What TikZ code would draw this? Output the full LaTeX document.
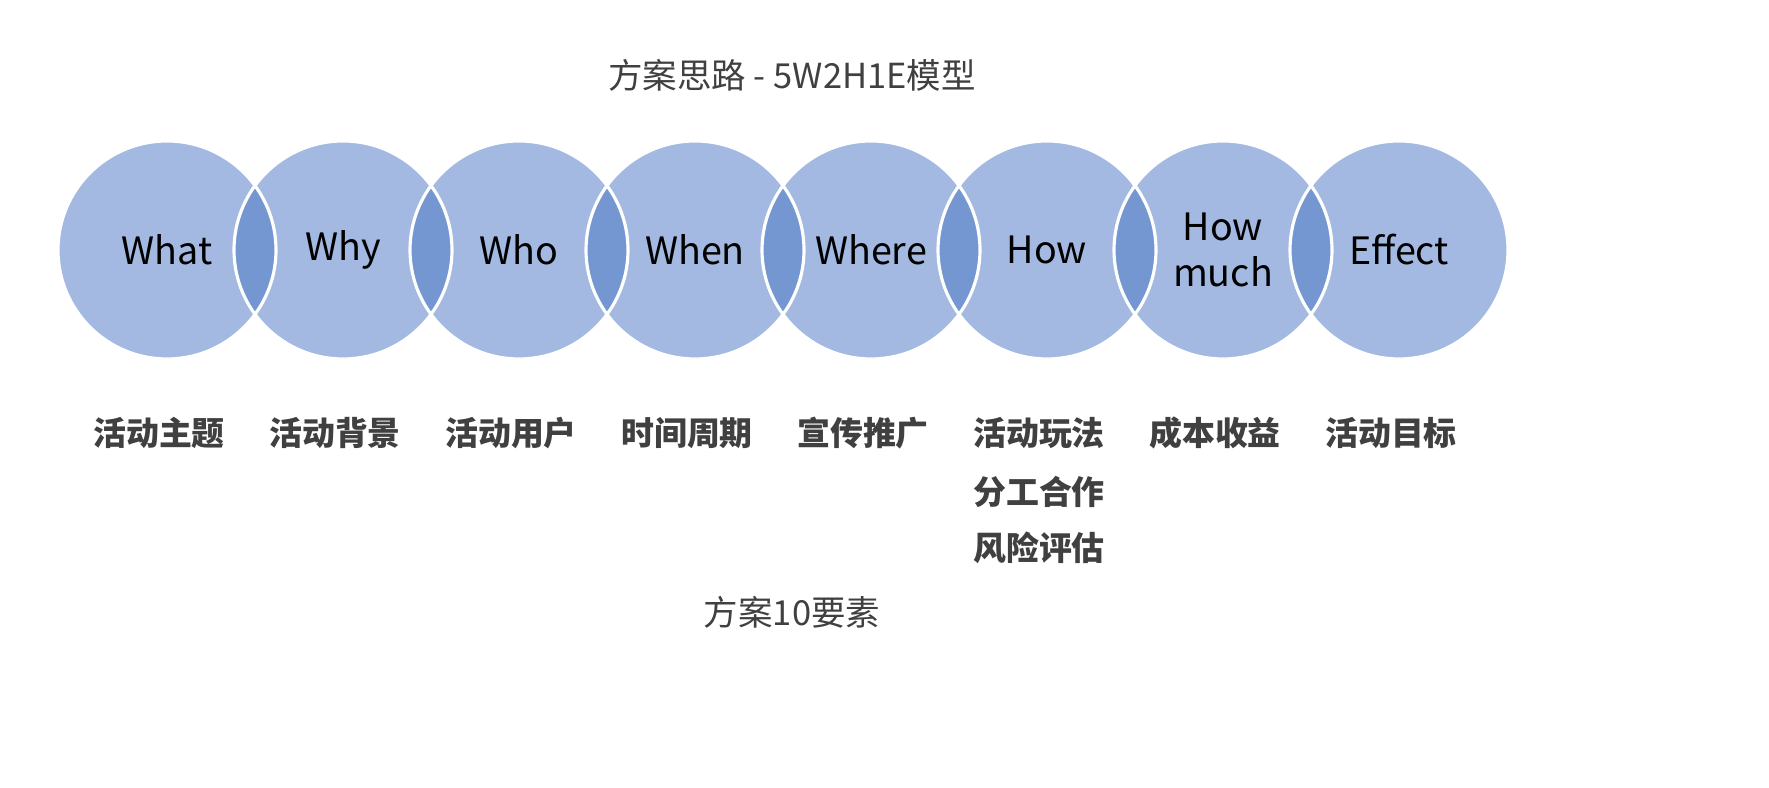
\documentclass[tikz,border=0pt]{standalone}
\usepackage{fontspec}
\setmainfont{Noto Sans CJK SC}
\begin{document}
\begin{tikzpicture}[x=0.00886cm,y=-0.00886cm,
  lbl/.style={font=\fontsize{9.5}{11.5}\selectfont,align=center,text=black},
  elem/.style={font=\fontsize{8.3}{14}\selectfont\bfseries,align=center,text=textgray}]
  \definecolor{ringblue}{HTML}{A3B9E1}
  \definecolor{lensblue}{HTML}{7597D1}
  \definecolor{textgray}{HTML}{404040}
  \pgfmathsetmacro\rad{109}
  \fill[white] (0,0) rectangle (1769,788);
  \useasboundingbox (0,0) rectangle (1769,788);
\begin{scope}[overlay]
  \node[font=\fontsize{8.7}{10}\selectfont,text=textgray] (title) at (792,75) {方案思路 - 5W2H1E模型};

% circles
  \foreach \i in {0,...,7}
    \fill[ringblue] (167+176*\i,250) circle (\rad);
% overlaps
  \foreach \i in {0,...,6} {
    \begin{scope}
      \clip (167+176*\i,250) circle (\rad);
      \fill[lensblue] (343+176*\i,250) circle (\rad);
    \end{scope}
  }
  \foreach \i in {0,...,7}
    \draw[white,line width=0.8pt] (167+176*\i,250) circle (\rad);

% labels in circles
  \foreach \t [count=\k from 0] in {What,Why,Who,When,Where,How,{How\\much},Effect}
    \node[lbl] (w\k) at (167+176*\k,250) {\t};

% elements
  \foreach \t [count=\k from 0] in {活动主题,活动背景,活动用户,时间周期,宣传推广,活动玩法,成本收益,活动目标}
    \node[elem] (e\k) at (159+176*\k,433) {\t};
  \node[elem,anchor=north] (extra) at (e5.south) {分工合作\\风险评估};

  \node[font=\fontsize{8.7}{10}\selectfont,text=textgray] (foot) at (792,612) {方案10要素};
\end{scope}
\end{tikzpicture}
\end{document}
